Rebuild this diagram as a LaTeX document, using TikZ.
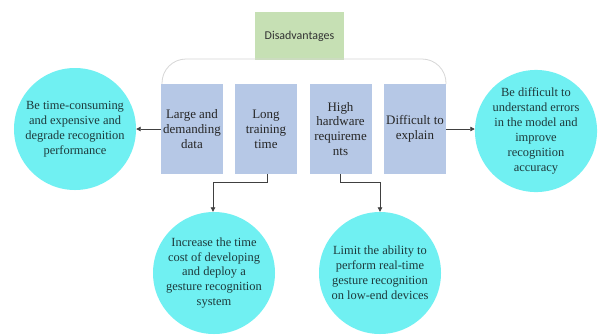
\documentclass[tikz,border=0pt]{standalone}
\usepackage{fontspec}
\setmainfont{Liberation Serif}
\newfontfamily\headfont{Carlito}
\usetikzlibrary{arrows.meta}
\definecolor{cyanfill}{RGB}{112,240,242}
\definecolor{boxblue}{RGB}{182,200,230}
\definecolor{headgreen}{RGB}{198,224,180}
\definecolor{circtext}{RGB}{30,58,60}
\definecolor{linegray}{RGB}{64,64,64}
\definecolor{bracketgray}{RGB}{215,215,215}
\begin{document}
\begin{tikzpicture}[x=1bp,y=-1bp,
  headbox/.style={draw=none,fill=headgreen,minimum width=89bp,minimum height=48bp,inner sep=0pt,
    font=\headfont\fontsize{12}{14}\selectfont,text=black!80},
  itembox/.style={draw=none,fill=boxblue,minimum width=62bp,minimum height=90bp,inner sep=0pt,
    align=center,font=\fontsize{13}{15}\selectfont,text=black!85},
  effect/.style={circle,draw=none,fill=cyanfill,minimum size=122bp,inner sep=0pt,
    align=center,font=\fontsize{12.5}{15}\selectfont,text=circtext},
  conn/.style={draw=linegray,line width=0.8bp,-{Triangle[length=4.5bp,width=4.5bp]}}
]
\useasboundingbox (0,0) rectangle (600,335);
\fill[white] (0,0) rectangle (600,335);

\node[headbox] (head) at (299.5,36) {Disadvantages};

\coordinate (bl) at (162,84);
\coordinate (br) at (446,84);
\draw[bracketgray,line width=0.8bp,rounded corners=24bp] (bl) -- (162,59) -- (446,59) -- (br);

\node[itembox] (b1) at (192,129) {Large and\\demanding\\data};
\node[itembox] (b2) at (266,129) {Long\\training\\time};
\node[itembox] (b3) at (340.5,129) {High\\hardware\\requireme\\nts};
\node[itembox] (b4) at (415,129) {Difficult to\\explain};

\node[effect] (c1) at (75,129) {Be time-consuming\\and expensive and\\degrade recognition\\performance};
\node[effect] (c4) at (536,131) {Be difficult to\\understand errors\\in the model and\\improve\\recognition\\accuracy};
\node[effect] (c2) at (214,273) {Increase the time\\cost of developing\\and deploy a\\gesture recognition\\system};
\node[effect] (c3) at (380,273) {Limit the ability to\\perform real-time\\gesture recognition\\on low-end devices};

\draw[conn] (b1.west) -- (c1.east |- b1.west);
\draw[conn] (b4.east) -- (c4.west |- b4.east);

\coordinate (k2a) at (267,182);
\coordinate (k2b) at (213,182);
\draw[conn] (b2.south -| k2a) -- (k2a) -- (k2b) -- (k2b |- c2.north);
\coordinate (k3a) at (340,182);
\coordinate (k3b) at (380,182);
\draw[conn] (b3.south -| k3a) -- (k3a) -- (k3b) -- (k3b |- c3.north);
\end{tikzpicture}
\end{document}
